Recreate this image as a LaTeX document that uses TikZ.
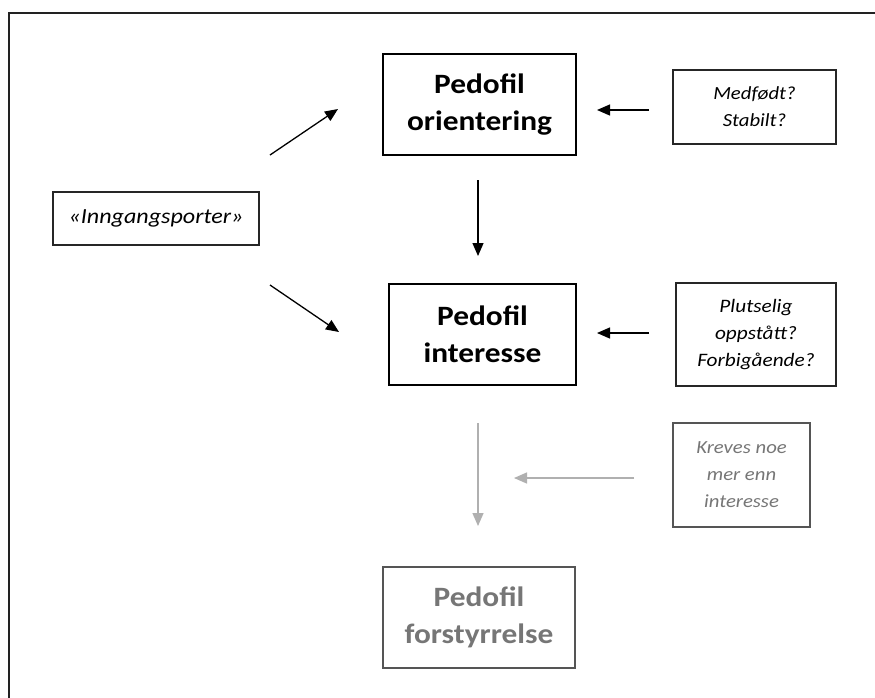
\documentclass[tikz,border=0pt]{standalone}
\usepackage{fontspec}
\setmainfont{Carlito}[FakeStretch=1.12]
\usetikzlibrary{arrows.meta}
\definecolor{frameC}{HTML}{222222}
\definecolor{grayText}{HTML}{767676}
\definecolor{grayArrow}{HTML}{B0B0B0}
\definecolor{grayBorder}{HTML}{555555}
\tikzset{
  mainbox/.style={draw=black, line width=1.2pt, align=center, inner sep=0pt,
    font=\fontsize{28}{37}\selectfont\bfseries},
  sidebox/.style={draw=black!85, line width=1.2pt, align=center, inner sep=0pt,
    font=\fontsize{18.5}{27}\selectfont\itshape},
  arr/.style={line width=1.3pt, -{Triangle[length=13pt,width=11pt]}},
  grayarr/.style={line width=1.3pt, draw=grayArrow, -{Triangle[length=13pt,width=11pt]}, color=grayArrow},
}
\begin{document}
\begin{tikzpicture}[x=1pt,y=-1pt]
\useasboundingbox (0,0) rectangle (875,697);
\fill[white] (0,0) rectangle (875,697);
\draw[frameC, line width=2pt] (9,13) rectangle (885,710);

\node[mainbox, minimum width=193pt, minimum height=101pt] (orient) at (479.5,104.5) {Pedofil\\orientering};
\node[mainbox, minimum width=187pt, minimum height=101pt] (inter) at (482.5,334.5) {Pedofil\\interesse};
\node[mainbox, draw=grayBorder, text=grayText, minimum width=192pt, minimum height=101pt] (forst) at (479,617.5) {Pedofil\\forstyrrelse};

\node[sidebox, minimum width=163pt, minimum height=74pt] (med) at (754.5,107) {Medfødt?\\Stabilt?};
\node[sidebox, font=\fontsize{19}{27}\selectfont\itshape, minimum width=160pt, minimum height=103pt] (plut) at (756,334.5) {Plutselig\\oppstått?\\Forbigående?};
\node[sidebox, draw=grayBorder, text=grayText, minimum width=137pt, minimum height=104pt] (krev) at (741.5,475) {Kreves noe\\mer enn\\interesse};
\node[sidebox, font=\fontsize{21.5}{27}\selectfont\itshape, minimum width=206pt, minimum height=53pt] (inng) at (156,218.5) {«Inngangsporter»};

\coordinate (d1s) at (270,155);
\coordinate (d1e) at (338,109);
\coordinate (d2s) at (270,285);
\coordinate (d2e) at (339,332);
\coordinate (v1s) at (478,180);
\coordinate (v1e) at (478,256);
\coordinate (v2s) at (478,423);
\coordinate (v2e) at (478,526);
\coordinate (h1s) at (649,110);
\coordinate (h1e) at (597,110);
\coordinate (h2s) at (649,333);
\coordinate (h2e) at (597,333);
\coordinate (h3s) at (634,478);
\coordinate (h3e) at (514,478);

\draw[arr] (d1s) -- (d1e);
\draw[arr] (d2s) -- (d2e);
\draw[arr] (v1s) -- (v1e);
\draw[arr] (h1s) -- (h1e);
\draw[arr] (h2s) -- (h2e);
\draw[grayarr] (v2s) -- (v2e);
\draw[grayarr] (h3s) -- (h3e);
\end{tikzpicture}
\end{document}
